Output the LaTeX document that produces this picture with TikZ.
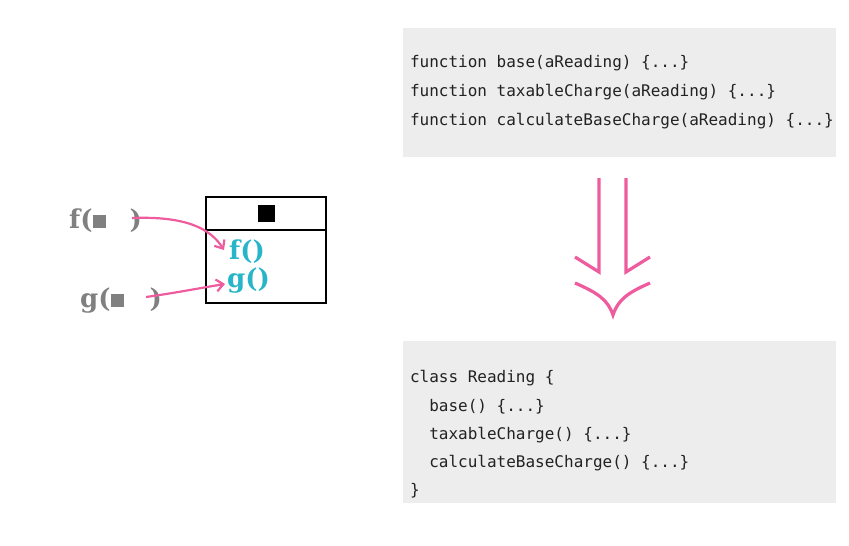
\documentclass[tikz,border=0pt]{standalone}
\usepackage{fontspec}
\setmonofont{DejaVu Sans Mono}
\newfontfamily\callfont{DejaVu Serif}
\usetikzlibrary{positioning,calc,arrows.meta}
\definecolor{codegray}{HTML}{ECEDEC}
\definecolor{callpink}{HTML}{EE5C9E}
\definecolor{callcyan}{HTML}{29B5C9}
\definecolor{argray}{HTML}{808080}
\definecolor{codeink}{HTML}{222222}

\begin{document}
\begin{tikzpicture}[x=1pt, y=-1pt,
    codebox/.style={fill=codegray, minimum width=433pt, inner sep=0pt},
    codetext/.style={font=\ttfamily\fontsize{16}{29}\selectfont, text=codeink, align=left, anchor=west, inner sep=0pt},
    boxpart/.style={draw, line width=2.4pt, minimum width=120pt, inner sep=0pt},
    method/.style={font=\callfont\bfseries\fontsize{26}{26}\selectfont, text=callcyan, inner sep=0pt, anchor=base west},
    caller/.style={font=\callfont\bfseries\fontsize{26}{26}\selectfont, text=argray, inner sep=0pt, anchor=base west},
    call/.style={-{Straight Barb[length=7pt,width=12pt]}, draw=callpink, line width=2.2pt},
    bigarrow/.style={draw=callpink, line width=3.2pt}]
		\useasboundingbox (0,0) rectangle (849,546);

		% code before and after
		\node [codebox, minimum height=129pt] (funcs) at (619.5,92.5) {};
		\node [codetext] (funcstext) at ([xshift=7pt]funcs.west)
			{function base(aReading) \{...\}\\
			 function taxableCharge(aReading) \{...\}\\
			 function calculateBaseCharge(aReading) \{...\}};
		\node [codebox, minimum height=162pt] (readbox) at (619.5,422) {};
		\node [codetext, font=\ttfamily\fontsize{16}{28.3}\selectfont] (readtext) at ([xshift=7pt,yshift=-12.5pt]readbox.west)
			{class Reading \{\\
			 \phantom{xx}base() \{...\}\\
			 \phantom{xx}taxableCharge() \{...\}\\
			 \phantom{xx}calculateBaseCharge() \{...\}\\
			 \}};

		% refactoring arrow
		\draw [bigarrow] (599,178) -- (599,272) -- (575,257);
		\draw [bigarrow] (626,178) -- (626,272) -- (650,257);
		\draw [bigarrow] (575,283) .. controls (598,293) and (608,300) .. (613,315)
			.. controls (618,300) and (627,293) .. (650,283);

		% class with its methods
		\node [boxpart, minimum height=33pt] (head) at (266,213.5) {\rule{17pt}{17pt}};
		\node [boxpart, minimum height=73pt] (body) [below=-2.4pt of head] {};
		\node [method] (fcall) at (229,259) {f()};
		\node [method] (gcall) at (227,287) {g()};

		% callers
		\node [caller] (f) at (69,228) {f(\rule{13pt}{13pt}\hspace{24pt})};
		\node [caller] (g) at (80,307) {g(\rule{13pt}{13pt}\hspace{26pt})};
		\coordinate (fout) at (132,218);
		\coordinate (gout) at (146,297);
		\coordinate (fin) at (224,250);
		\coordinate (gin) at (225,284);
		\path [call] (fout) .. controls (185,216) and (210,228) .. (fin);
		\path [call] (gout) .. controls (175,293) and (200,288) .. (gin);
\end{tikzpicture}
\end{document}
